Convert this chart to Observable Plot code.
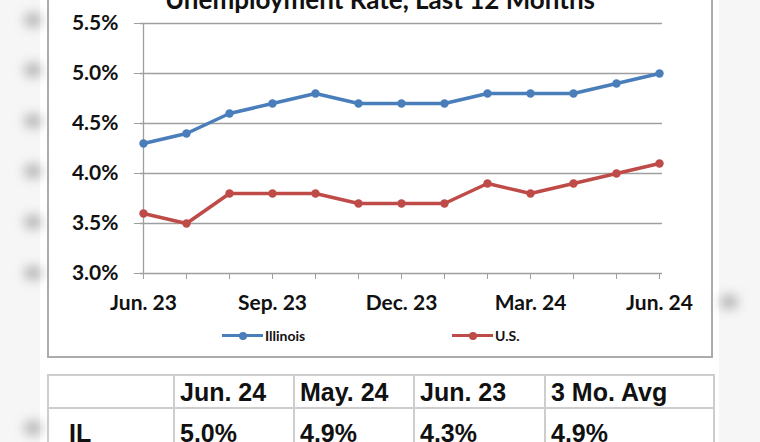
<!DOCTYPE html>
<html>
<head>
<meta charset="utf-8">
<script src="https://cdn.jsdelivr.net/npm/d3@7"></script>
<script src="https://cdn.jsdelivr.net/npm/@observablehq/plot@0.6"></script>
<style>
  html, body { margin: 0; padding: 0; }
  body { width: 760px; height: 442px; overflow: hidden; background: #f6f6f6; }
  #page { position: relative; width: 760px; height: 442px; overflow: hidden; }
  #sheet { position: absolute; left: 40px; top: 0; width: 679px; height: 442px; background: #fff; }
  .blob { position: absolute; width: 18px; height: 14px; border-radius: 50%; background: #7d7d7d; filter: blur(6px); opacity: 0.6; }
  #box { position: absolute; left: 47px; top: -6px; width: 666px; height: 364px; border: 2px solid #ababab; box-sizing: border-box; }
  #title { position: absolute; left: 48px; width: 664px; top: -17px; text-align: center;
           font: bold 26px Lato, sans-serif; color: #111; white-space: nowrap; }
  #chart { position: absolute; left: 48px; top: 0; }
  #chart svg { display: block; }
  #legend { position: absolute; top: 327px; left: 0; font: bold 14px Lato, sans-serif; color: #111; }
  .item { position: absolute; display: flex; align-items: center; white-space: nowrap; }
  .swatch { position: relative; width: 41px; height: 16px; margin-right: 2px; }
  .swatch .ln { position: absolute; left: 0; right: 0; top: 6.5px; height: 3px; }
  .swatch .pt { position: absolute; left: 16.5px; top: 4px; width: 8px; height: 8px; border-radius: 50%; }
  #table { position: absolute; left: 47px; top: 374px; border-collapse: collapse; table-layout: fixed;
           font: bold 25px "Liberation Sans", Arial, sans-serif; color: #111; }
  #table td { border: 2px solid #cdcdcd; padding: 0 0 0 5px; line-height: 25px; white-space: nowrap; vertical-align: top; }
  #table tr.head td { height: 33px; padding-top: 4px; box-sizing: border-box; }
  #table tr.body td { height: 40px; padding-top: 12px; box-sizing: border-box; }
  #table td.first { padding-left: 20px; }
</style>
</head>
<body>
<div id="page">
  <div id="sheet"></div>
  <div id="blobs"></div>
  <div id="box"></div>
  <div id="title">Unemployment Rate, Last 12 Months</div>
  <div id="chart"></div>
  <div id="legend"></div>
  <table id="table"></table>
</div>
<script>
// Monthly unemployment rate (%), June 2023 through June 2024
const months = ["Jun. 23", "Jul. 23", "Aug. 23", "Sep. 23", "Oct. 23", "Nov. 23", "Dec. 23",
                "Jan. 24", "Feb. 24", "Mar. 24", "Apr. 24", "May. 24", "Jun. 24"];
const illinois = [4.3, 4.4, 4.6, 4.7, 4.8, 4.7, 4.7, 4.7, 4.8, 4.8, 4.8, 4.9, 5.0];
const us       = [3.6, 3.5, 3.8, 3.8, 3.8, 3.7, 3.7, 3.7, 3.9, 3.8, 3.9, 4.0, 4.1];

const seriesNames = ["Illinois", "U.S."];
const seriesColors = ["#4a7ebb", "#be4b48"];

const xTickLabels = ["Jun. 23", "Sep. 23", "Dec. 23", "Mar. 24", "Jun. 24"];
const yTicks = [3.0, 3.5, 4.0, 4.5, 5.0, 5.5];

// Summary table
const tableColumns = ["", "Jun. 24", "May. 24", "Jun. 23", "3 Mo. Avg"];
const tableRowLabel = "IL";
const tableWidths = [126, 120, 120, 131, 169];

const pct = v => v.toFixed(1) + "%";
const last = illinois.length - 1;
const tableValues = [
  illinois[last],
  illinois[last - 1],
  illinois[0],
  d3.mean(illinois.slice(-3))
];

// Long-format rows for the line and dot marks
const rows = months.flatMap((m, i) => [
  {month: m, series: seriesNames[0], value: illinois[i]},
  {month: m, series: seriesNames[1], value: us[i]}
]);

const gridColor = "#9f9f9f";

const chart = Plot.plot({
  width: 664,
  height: 357,
  marginLeft: 92,
  marginRight: 50,
  marginTop: 23,
  marginBottom: 84,
  style: {
    fontFamily: "Lato, sans-serif",
    fontWeight: "bold",
    fontSize: "21px",
    color: "#111",
    background: "transparent",
    overflow: "visible"
  },
  x: {type: "point", domain: months, padding: 0, label: null},
  y: {domain: [3.0, 5.5], label: null},
  color: {domain: seriesNames, range: seriesColors},
  marks: [
    Plot.gridY(yTicks, {stroke: gridColor, strokeOpacity: 1, strokeWidth: 1.3}),
    Plot.ruleX([months[0]], {stroke: gridColor, strokeWidth: 1.3}),
    Plot.axisY({ticks: yTicks, tickSize: 6, tickPadding: 16, stroke: gridColor, fill: "#111",
                tickFormat: d => d.toFixed(1) + "%"}),
    Plot.axisX({ticks: months, tickSize: 6, stroke: gridColor, tickFormat: () => ""}),
    Plot.axisX({ticks: xTickLabels, tickSize: 0, tickPadding: 22, fill: "#111"}),
    Plot.line(rows, {x: "month", y: "value", z: "series", stroke: "series",
                     strokeWidth: 3.5, strokeLinejoin: "round"}),
    Plot.dot(rows, {x: "month", y: "value", fill: "series", r: 4.2})
  ]
});
document.getElementById("chart").appendChild(chart);

// Legend below the plot area
const legendPositions = [222, 452];
const legend = document.getElementById("legend");
seriesNames.forEach((name, i) => {
  const item = document.createElement("div");
  item.className = "item";
  item.style.left = legendPositions[i] + "px";
  item.innerHTML =
    `<div class="swatch"><div class="ln" style="background:${seriesColors[i]}"></div>` +
    `<div class="pt" style="background:${seriesColors[i]}"></div></div><span>${name}</span>`;
  legend.appendChild(item);
});

// Table
const table = document.getElementById("table");
const head = document.createElement("tr");
head.className = "head";
tableColumns.forEach((c, i) => {
  const td = document.createElement("td");
  td.style.width = tableWidths[i] + "px";
  if (i === 0) td.className = "first";
  td.textContent = c;
  head.appendChild(td);
});
table.appendChild(head);
const body = document.createElement("tr");
body.className = "body";
[tableRowLabel, ...tableValues.map(pct)].forEach((c, i) => {
  const td = document.createElement("td");
  if (i === 0) td.className = "first";
  td.textContent = c;
  body.appendChild(td);
});
table.appendChild(body);

// Soft shadows along the page edges
const blobSpots = [[24, 20], [24, 70], [24, 121], [24, 171], [24, 222], [24, 273], [24, 428], [720, 302]];
const blobs = document.getElementById("blobs");
blobSpots.forEach(([x, y]) => {
  const b = document.createElement("div");
  b.className = "blob";
  b.style.left = x + "px";
  b.style.top = (y - 7) + "px";
  blobs.appendChild(b);
});
</script>
</body>
</html>
